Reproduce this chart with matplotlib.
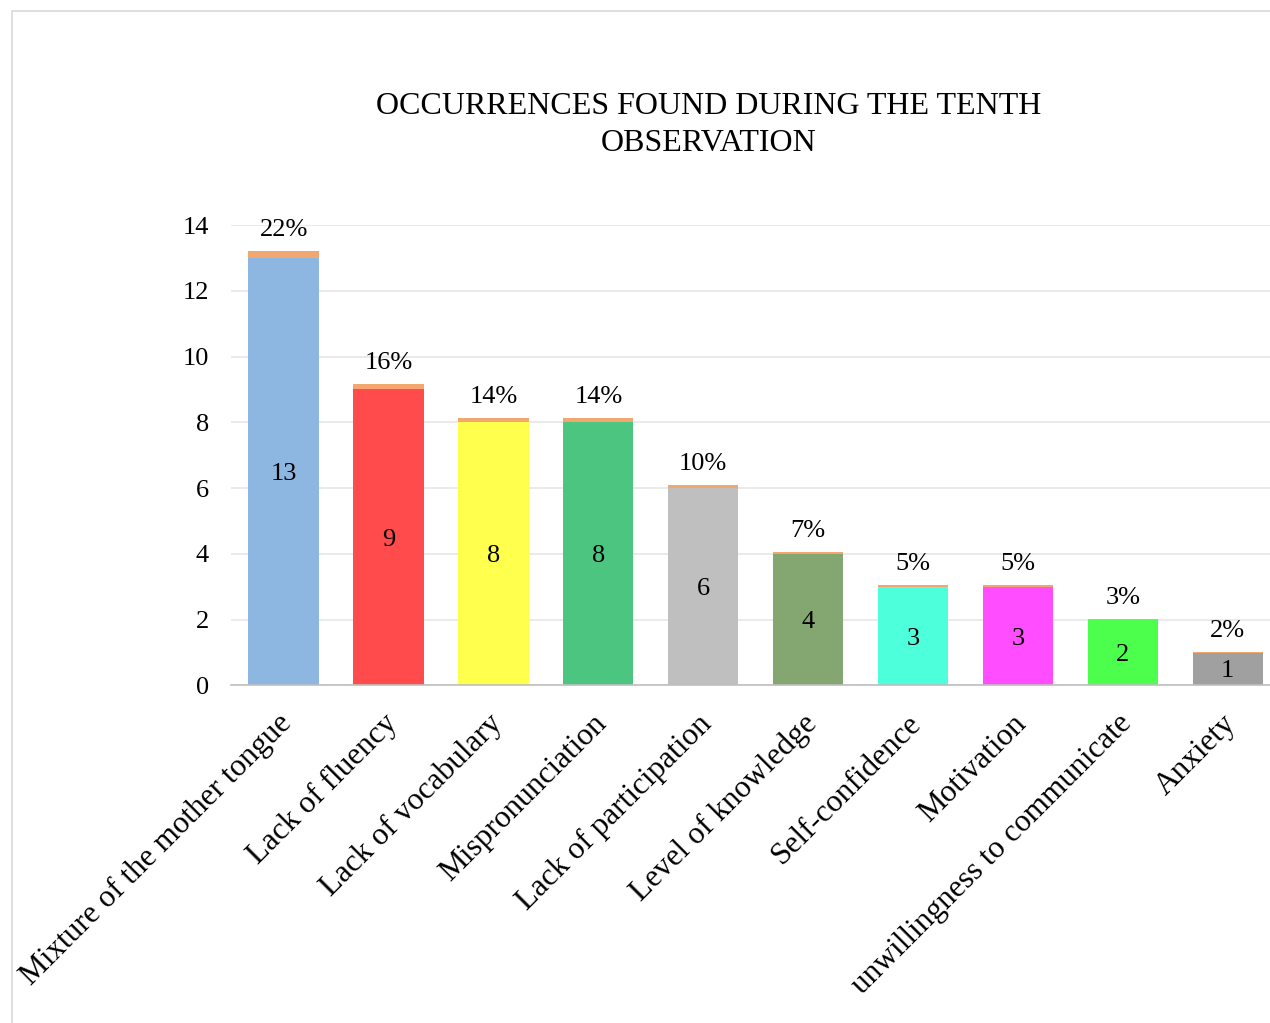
import matplotlib.pyplot as plt
import matplotlib.transforms as mtransforms
from matplotlib.patches import Rectangle

plt.rcParams['font.family'] = ['Liberation Serif', 'DejaVu Serif']

# Data
categories = ["Mixture of the mother tongue", "Lack of fluency", "Lack of vocabulary",
              "Mispronunciation", "Lack of participation", "Level of knowledge",
              "Self-confidence", "Motivation", "unwillingness to communicate", "Anxiety"]
counts = [13, 9, 8, 8, 6, 4, 3, 3, 2, 1]
percents = [22, 16, 14, 14, 10, 7, 5, 5, 3, 2]
bar_colors = ["#8DB7E0", "#FF4B4B", "#FFFF4D", "#4CC581", "#BFBFBF",
              "#84A670", "#4DFFDB", "#FF4DFF", "#4DFF4D", "#A0A0A0"]
pct_color = "#F4A670"

fig = plt.figure(figsize=(12.7, 10.23), dpi=100)
ax = fig.add_axes([0.182, 0.330, 0.826, 0.450])

# outer chart frame
fig.patches.append(Rectangle((12 / 1270, -0.01), 1.1, 1 - 11 / 1023 + 0.01,
                             transform=fig.transFigure, fill=False,
                             edgecolor="#D9D9D9", linewidth=1.2))

x = list(range(len(categories)))
pct_heights = [p / 100 for p in percents]
ax.bar(x, counts, width=0.67, color=bar_colors, zorder=2)
ax.bar(x, pct_heights, bottom=counts, width=0.67, color=pct_color, zorder=2)

for i in x:
    ax.text(i, counts[i] / 2, str(counts[i]), ha="center", va="center_baseline", fontsize=19)
    ax.annotate(f"{percents[i]}%", (i, counts[i] + pct_heights[i]),
                xytext=(0, 7), textcoords="offset points",
                ha="center", va="bottom", fontsize=19)

ax.set_xlim(-0.5, len(categories) - 0.5)
ax.set_ylim(0, 14)
ax.set_yticks(range(0, 15, 2))
ax.yaxis.grid(True, color="#E6E6E6", linewidth=1.2, zorder=0)
ax.set_axisbelow(True)
for s in ["top", "right", "left"]:
    ax.spines[s].set_visible(False)
ax.spines["bottom"].set_color("#BFBFBF")
ax.spines["bottom"].set_linewidth(1.2)
ax.tick_params(axis="both", length=0, labelsize=19)
ax.tick_params(axis="y", pad=16)
ax.set_xticks(x)
ax.set_xticklabels(categories, rotation=45, ha="right", rotation_mode="anchor", fontsize=22.5)
ax.tick_params(axis="x", pad=15)
shift = mtransforms.ScaledTranslation(-6 / 100, -3 / 100, fig.dpi_scale_trans)
for lbl in ax.get_xticklabels():
    lbl.set_transform(lbl.get_transform() + shift)

fig.text(0.558, 0.878, "OCCURRENCES FOUND DURING THE TENTH\nOBSERVATION",
         ha="center", va="center", fontsize=23, linespacing=1.35)

fig.savefig("out.png", dpi=100)
